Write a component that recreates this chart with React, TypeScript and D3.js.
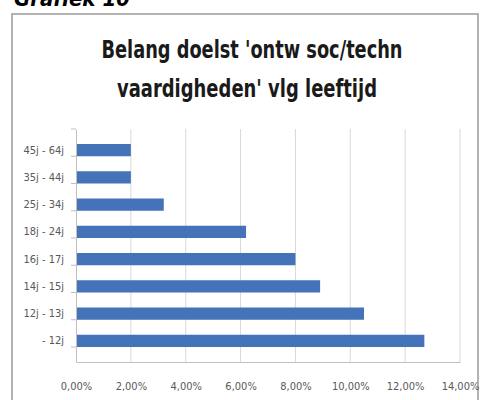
import React, { useEffect, useRef } from "react";
import * as d3 from "d3";

const categories = ["45j - 64j", "35j - 44j", "25j - 34j", "18j - 24j", "16j - 17j", "14j - 15j", "12j - 13j", "- 12j"];
const values = [0.02, 0.02, 0.032, 0.062, 0.08, 0.089, 0.105, 0.127];
const xTicks = [0, 0.02, 0.04, 0.06, 0.08, 0.1, 0.12, 0.14];
const titleLines = ["Belang doelst 'ontw soc/techn", "vaardigheden' vlg leeftijd"];
const heading = "Grafiek 10";

const W = 481;
const H = 400;
const narrow = "'Liberation Sans Narrow', 'DejaVu Sans Condensed', 'Open Sans', sans-serif";

export default function App() {
    const svgRef = useRef<SVGSVGElement | null>(null);

    useEffect(() => {
        if (!svgRef.current) return;
        const svg = d3.select(svgRef.current);
        svg.selectAll("*").remove();

        svg.append("rect").attr("width", W).attr("height", H).attr("fill", "#fff");

        // heading, cut off at the top like the scan
        svg.append("text")
            .attr("x", 14)
            .attr("y", 6)
            .attr("font-family", narrow)
            .attr("font-size", 22)
            .attr("font-weight", "bold")
            .attr("font-style", "italic")
            .attr("fill", "#000")
            .text(heading);

        // chart frame
        svg.append("rect")
            .attr("x", 12)
            .attr("y", 14)
            .attr("width", 466)
            .attr("height", 400)
            .attr("fill", "#fff")
            .attr("stroke", "#9a9a9a")
            .attr("stroke-width", 1.5);

        // title
        const titleY = [58, 97];
        const titleW = [301, 260];
        const titleX = [252, 247];
        titleLines.forEach((t, i) => {
            svg.append("text")
                .attr("x", titleX[i])
                .attr("y", titleY[i])
                .attr("text-anchor", "middle")
                .attr("font-family", narrow)
                .attr("font-size", 25)
                .attr("font-weight", "bold")
                .attr("fill", "#1a1a1a")
                .attr("textLength", titleW[i])
                .attr("lengthAdjust", "spacingAndGlyphs")
                .text(t);
        });

        const x = d3.scaleLinear().domain([0, 0.14]).range([76, 460]);
        const y = d3.scaleBand<string>().domain(categories).range([129, 362]).padding(0.55);

        // gridlines
        svg.append("g")
            .selectAll("line")
            .data(xTicks.slice(1))
            .join("line")
            .attr("x1", d => x(d))
            .attr("x2", d => x(d))
            .attr("y1", 129)
            .attr("y2", 362)
            .attr("stroke", "#d9d9d9")
            .attr("stroke-width", 1);

        // bars
        svg.append("g")
            .selectAll("rect")
            .data(categories)
            .join("rect")
            .attr("x", x(0))
            .attr("y", d => y(d)!)
            .attr("width", (d, i) => x(values[i]) - x(0))
            .attr("height", y.bandwidth())
            .attr("fill", "#4573ba");

        // x axis
        const fmt = (d: number) => (d * 100).toFixed(2).replace(".", ",") + "%";
        const xAxis = svg.append("g")
            .attr("transform", "translate(0,362)")
            .call(d3.axisBottom(x).tickValues(xTicks).tickSize(0).tickFormat(d => fmt(d as number)));
        xAxis.select(".domain").attr("stroke", "#bfbfbf");
        xAxis.selectAll("text")
            .attr("dy", 0)
            .attr("y", 28)
            .attr("font-family", narrow)
            .attr("font-size", 11)
            .attr("fill", "#595959");

        // y axis
        const step = y.step();
        const yAxis = svg.append("g")
            .attr("transform", "translate(76,0)")
            .call(d3.axisLeft(y).tickSize(0).tickPadding(12));
        yAxis.select(".domain").attr("stroke", "#bfbfbf");
        yAxis.selectAll("text")
            .attr("font-family", narrow)
            .attr("font-size", 11)
            .attr("fill", "#595959");
        // small ticks at band boundaries
        yAxis.append("g")
            .selectAll("line")
            .data(d3.range(categories.length + 1))
            .join("line")
            .attr("x1", -5)
            .attr("x2", 0)
            .attr("y1", i => 129 + i * step)
            .attr("y2", i => 129 + i * step)
            .attr("stroke", "#bfbfbf");
    }, []);

    return (
        <svg
            ref={svgRef}
            width={W}
            height={H}
            style={{ position: "absolute", left: 0, top: 0 }}
        />
    );
}
